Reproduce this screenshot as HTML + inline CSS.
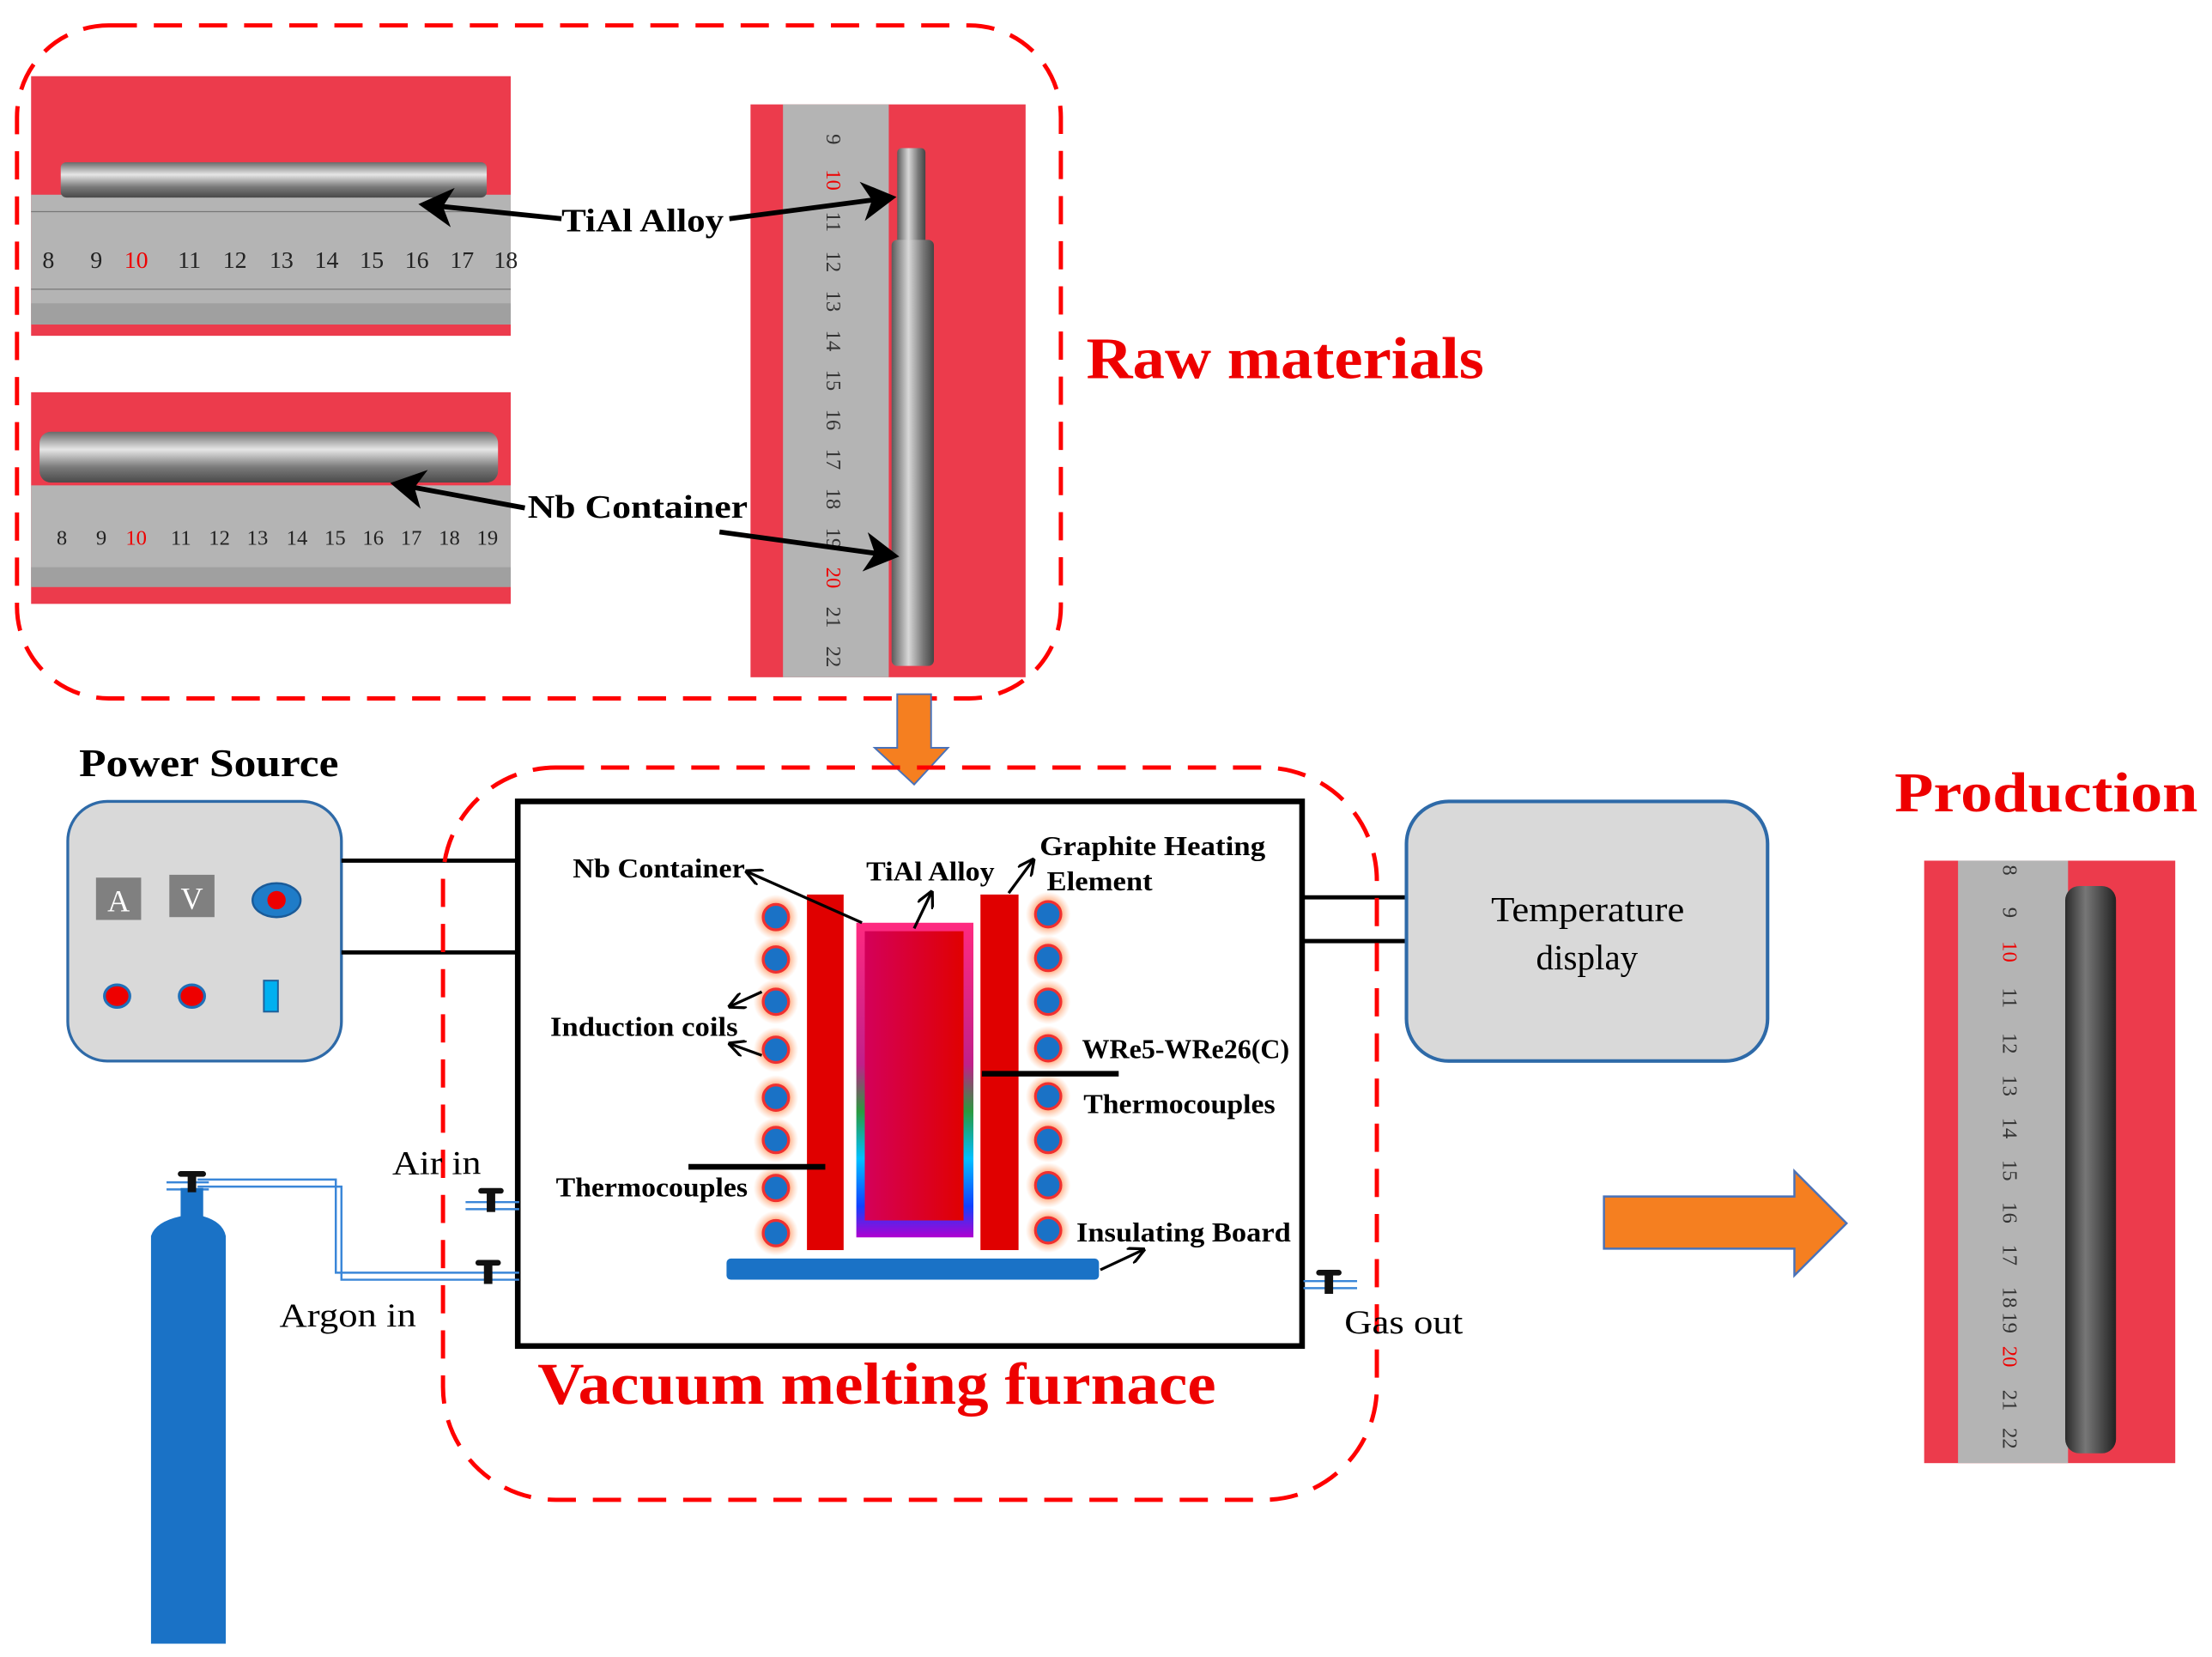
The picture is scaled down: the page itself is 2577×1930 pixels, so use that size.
<!DOCTYPE html>
<html><head><meta charset="utf-8"><style>
html,body{margin:0;padding:0;background:#fff;}
svg{display:block;}
text{font-family:"Liberation Serif",serif;}
</style></head><body>
<svg width="2577" height="1930" viewBox="0 0 1568 1174.4" xmlns="http://www.w3.org/2000/svg">
<defs>
<linearGradient id="rodh" x1="0" y1="0" x2="0" y2="1">
<stop offset="0" stop-color="#6a6a6a"/><stop offset="0.35" stop-color="#e6e6e6"/><stop offset="0.7" stop-color="#7a7a7a"/><stop offset="1" stop-color="#4a4a4a"/></linearGradient>
<linearGradient id="rodv" x1="0" y1="0" x2="1" y2="0">
<stop offset="0" stop-color="#5a5a5a"/><stop offset="0.4" stop-color="#d8d8d8"/><stop offset="0.75" stop-color="#777"/><stop offset="1" stop-color="#444"/></linearGradient>
<linearGradient id="rodd" x1="0" y1="0" x2="1" y2="0">
<stop offset="0" stop-color="#2a2a2a"/><stop offset="0.4" stop-color="#777"/><stop offset="1" stop-color="#222"/></linearGradient>
<linearGradient id="cruc" x1="0" y1="0" x2="1" y2="0">
<stop offset="0" stop-color="#d4005a"/><stop offset="1" stop-color="#e00000"/></linearGradient>
<linearGradient id="crucw" x1="0" y1="0" x2="0" y2="1">
<stop offset="0" stop-color="#ff2a80"/><stop offset="0.45" stop-color="#c0208a"/><stop offset="0.6" stop-color="#2a9a40"/><stop offset="0.75" stop-color="#00c0ff"/><stop offset="0.9" stop-color="#1040ff"/><stop offset="1" stop-color="#b000d0"/></linearGradient>
<radialGradient id="glow"><stop offset="0.5" stop-color="#ff8040" stop-opacity="0.8"/><stop offset="1" stop-color="#ffb080" stop-opacity="0"/></radialGradient>
<marker id="ah" markerWidth="8" markerHeight="8" refX="6" refY="4" orient="auto" markerUnits="strokeWidth"><path d="M0,0 L7,4 L0,8 L2,4z" fill="#000"/></marker>
<marker id="ah2" markerWidth="6" markerHeight="6" refX="5" refY="3" orient="auto" markerUnits="strokeWidth"><path d="M0,0 L6,3 L0,6" fill="none" stroke="#000" stroke-width="1"/></marker>
</defs>

<!-- Raw materials box -->
<rect x="12" y="18" width="740" height="477" rx="65" fill="none" stroke="#f00" stroke-width="3" stroke-dasharray="20,12"/>
<!-- photo 1 -->
<rect x="22" y="54" width="340" height="184" fill="#ec3b4c"/>
<rect x="22" y="138" width="340" height="92" fill="#b4b4b4"/>
<rect x="22" y="215" width="340" height="15" fill="#a0a0a0"/>
<g stroke="#777" stroke-width="0.8">
<path d="M22,150 H362 M22,205 H362"/></g>
<rect x="43" y="115" width="302" height="25" rx="4" fill="url(#rodh)"/>
<g font-family="Liberation Sans,sans-serif" font-size="17" fill="#222">
<text x="30" y="190">8</text><text x="64" y="190">9</text><text x="88" y="190" fill="#e00">10</text><text x="126" y="190">11</text><text x="158" y="190">12</text><text x="191" y="190">13</text><text x="223" y="190">14</text><text x="255" y="190">15</text><text x="287" y="190">16</text><text x="319" y="190">17</text><text x="350" y="190">18</text></g>
<!-- photo 2 -->
<rect x="22" y="278" width="340" height="150" fill="#ec3b4c"/>
<rect x="22" y="344" width="340" height="72" fill="#b4b4b4"/>
<rect x="22" y="402" width="340" height="14" fill="#a0a0a0"/>
<rect x="28" y="306" width="325" height="36" rx="8" fill="url(#rodh)"/>
<g font-family="Liberation Sans,sans-serif" font-size="15" fill="#222">
<text x="40" y="386">8</text><text x="68" y="386">9</text><text x="89" y="386" fill="#e00">10</text><text x="121" y="386">11</text><text x="148" y="386">12</text><text x="175" y="386">13</text><text x="203" y="386">14</text><text x="230" y="386">15</text><text x="257" y="386">16</text><text x="284" y="386">17</text><text x="311" y="386">18</text><text x="338" y="386">19</text></g>
<!-- photo 3 -->
<rect x="532" y="74" width="195" height="406" fill="#ec3b4c"/>
<rect x="555" y="74" width="75" height="406" fill="#b4b4b4"/>
<g font-family="Liberation Sans,sans-serif" font-size="15" fill="#333">
<text transform="translate(586,95) rotate(90)">9</text>
<text transform="translate(586,120) rotate(90)" fill="#e00">10</text>
<text transform="translate(586,150) rotate(90)">11</text>
<text transform="translate(586,178) rotate(90)">12</text>
<text transform="translate(586,206) rotate(90)">13</text>
<text transform="translate(586,234) rotate(90)">14</text>
<text transform="translate(586,262) rotate(90)">15</text>
<text transform="translate(586,290) rotate(90)">16</text>
<text transform="translate(586,318) rotate(90)">17</text>
<text transform="translate(586,346) rotate(90)">18</text>
<text transform="translate(586,374) rotate(90)">19</text>
<text transform="translate(586,402) rotate(90)" fill="#e00">20</text>
<text transform="translate(586,430) rotate(90)">21</text>
<text transform="translate(586,458) rotate(90)">22</text></g>
<rect x="636" y="105" width="20" height="70" rx="3" fill="url(#rodv)"/>
<rect x="632" y="170" width="30" height="302" rx="4" fill="url(#rodv)"/>
<!-- raw arrows & labels -->
<g stroke="#000" stroke-width="3.5" marker-end="url(#ah)" fill="none">
<line x1="398" y1="155" x2="300" y2="145"/>
<line x1="517" y1="155" x2="632" y2="140"/>
<line x1="372" y1="360" x2="280" y2="343"/>
<line x1="510" y1="377" x2="634" y2="394"/>
</g>
<g font-weight="bold" font-size="23" fill="#000">
<text x="398" y="164" textLength="115" lengthAdjust="spacingAndGlyphs">TiAl Alloy</text>
<text x="374" y="367" textLength="156" lengthAdjust="spacingAndGlyphs">Nb Container</text></g>
<text x="770" y="268" font-size="42" font-weight="bold" fill="#e00" textLength="282" lengthAdjust="spacingAndGlyphs">Raw materials</text>

<!-- orange down arrow -->
<path d="M636,492 H660 V530 H672 L648,556 L620,530 H636 Z" fill="#f57f20" stroke="#4a72b8" stroke-width="1.2"/>

<!-- Power source -->
<text x="56" y="550" font-size="28" font-weight="bold" textLength="184" lengthAdjust="spacingAndGlyphs">Power Source</text>
<rect x="48" y="568" width="194" height="184" rx="28" fill="#d9d9d9" stroke="#2e6aa8" stroke-width="2"/>
<rect x="68" y="622" width="32" height="30" fill="#808080"/>
<text x="84" y="646" font-size="22" fill="#fff" text-anchor="middle">A</text>
<rect x="120" y="620" width="32" height="30" fill="#808080"/>
<text x="136" y="644" font-size="22" fill="#fff" text-anchor="middle">V</text>
<ellipse cx="196" cy="638" rx="17" ry="12" fill="#1f7cc8" stroke="#1a5b99" stroke-width="1.5"/>
<circle cx="196" cy="638" r="6.5" fill="#e00"/>
<ellipse cx="83" cy="706" rx="9" ry="8" fill="#e00" stroke="#1f6fb8" stroke-width="2"/>
<ellipse cx="136" cy="706" rx="9" ry="8" fill="#e00" stroke="#1f6fb8" stroke-width="2"/>
<rect x="187" y="695" width="10" height="22" fill="#00b0f0" stroke="#1f5f99" stroke-width="1.2"/>
<g stroke="#000" stroke-width="3"><line x1="242" y1="610" x2="366" y2="610"/><line x1="242" y1="675" x2="366" y2="675"/>
<line x1="924" y1="636" x2="997" y2="636"/><line x1="924" y1="667" x2="997" y2="667"/></g>

<!-- Furnace dashed -->
<rect x="314" y="544" width="662" height="519" rx="80" fill="none" stroke="#f00" stroke-width="3" stroke-dasharray="20,12"/>
<rect x="367" y="568" width="556" height="386" fill="none" stroke="#000" stroke-width="4"/>

<!-- crucible -->
<rect x="607" y="654" width="83" height="223" fill="url(#crucw)"/>
<rect x="613" y="660" width="70" height="205" fill="url(#cruc)"/>
<rect x="572" y="634" width="26" height="252" fill="#e00000"/>
<rect x="695" y="634" width="27" height="252" fill="#e00000"/>
<rect x="515" y="892" width="264" height="15" rx="3" fill="#1a72c6"/>
<!-- coils -->
<g>
<g fill="url(#glow)">
<circle cx="550" cy="650" r="16"/><circle cx="550" cy="680" r="16"/><circle cx="550" cy="710" r="16"/><circle cx="550" cy="744" r="16"/><circle cx="550" cy="778" r="16"/><circle cx="550" cy="808" r="16"/><circle cx="550" cy="842" r="16"/><circle cx="550" cy="874" r="16"/>
<circle cx="743" cy="648" r="16"/><circle cx="743" cy="679" r="16"/><circle cx="743" cy="710" r="16"/><circle cx="743" cy="743" r="16"/><circle cx="743" cy="777" r="16"/><circle cx="743" cy="808" r="16"/><circle cx="743" cy="840" r="16"/><circle cx="743" cy="872" r="16"/></g>
<g fill="#1a72c6" stroke="#f03030" stroke-width="2">
<circle cx="550" cy="650" r="9"/><circle cx="550" cy="680" r="9"/><circle cx="550" cy="710" r="9"/><circle cx="550" cy="744" r="9"/><circle cx="550" cy="778" r="9"/><circle cx="550" cy="808" r="9"/><circle cx="550" cy="842" r="9"/><circle cx="550" cy="874" r="9"/>
<circle cx="743" cy="648" r="9"/><circle cx="743" cy="679" r="9"/><circle cx="743" cy="710" r="9"/><circle cx="743" cy="743" r="9"/><circle cx="743" cy="777" r="9"/><circle cx="743" cy="808" r="9"/><circle cx="743" cy="840" r="9"/><circle cx="743" cy="872" r="9"/></g>
</g>
<g stroke="#000" stroke-width="4"><line x1="488" y1="827" x2="585" y2="827"/><line x1="696" y1="761" x2="793" y2="761"/></g>
<g stroke="#000" stroke-width="2" fill="none" marker-end="url(#ah2)">
<line x1="611" y1="654" x2="530" y2="618"/>
<line x1="648" y1="658" x2="660" y2="633"/>
<line x1="715" y1="633" x2="732" y2="610"/>
<line x1="540" y1="703" x2="518" y2="713"/>
<line x1="540" y1="748" x2="518" y2="740"/>
<line x1="780" y1="900" x2="810" y2="886"/>
</g>
<g font-weight="bold" font-size="19" fill="#000" lengthAdjust="spacingAndGlyphs">
<text x="406" y="622" textLength="122" lengthAdjust="spacingAndGlyphs">Nb Container</text>
<text x="614" y="624" textLength="91" lengthAdjust="spacingAndGlyphs">TiAl Alloy</text>
<text x="737" y="606" textLength="160" lengthAdjust="spacingAndGlyphs">Graphite Heating</text>
<text x="742" y="631" textLength="75" lengthAdjust="spacingAndGlyphs">Element</text>
<text x="390" y="734" textLength="133" lengthAdjust="spacingAndGlyphs">Induction coils</text>
<text x="767" y="750" textLength="147" lengthAdjust="spacingAndGlyphs">WRe5-WRe26(C)</text>
<text x="768" y="789" textLength="136" lengthAdjust="spacingAndGlyphs">Thermocouples</text>
<text x="394" y="848" textLength="136" lengthAdjust="spacingAndGlyphs">Thermocouples</text>
<text x="763" y="880" textLength="152" lengthAdjust="spacingAndGlyphs">Insulating Board</text>
</g>
<text x="381" y="995" font-size="42" font-weight="bold" fill="#e00" textLength="481" lengthAdjust="spacingAndGlyphs">Vacuum melting furnace</text>

<!-- gas cylinder and pipes -->
<g fill="none" stroke="#3a86d8" stroke-width="1.5">
<path d="M140,836 H238 V902 H368"/><path d="M140,841 H242 V907 H368"/>
<path d="M330,852 H368 M330,857 H368"/>
<path d="M118,838 H148 M118,843 H148"/>
<path d="M924,908 H962 M924,913 H962"/>
</g>
<rect x="128" y="842" width="16" height="22" fill="#1a72c6"/>
<path d="M107,876 Q110,866 128,862 H144 Q158,866 160,876 V1165 H107 Z" fill="#1a72c6"/>
<g fill="#111">
<rect x="126" y="830" width="20" height="4" rx="2"/><rect x="133" y="833" width="6" height="12"/>
<rect x="339" y="842" width="18" height="4" rx="2"/><rect x="345" y="845" width="6" height="14"/>
<rect x="337" y="893" width="18" height="4" rx="2"/><rect x="343" y="896" width="6" height="14"/>
<rect x="933" y="900" width="18" height="4" rx="2"/><rect x="939" y="903" width="6" height="14"/>
</g>
<g font-size="24" fill="#000">
<text x="278" y="832" textLength="63" lengthAdjust="spacingAndGlyphs">Air in</text>
<text x="198" y="940" textLength="97" lengthAdjust="spacingAndGlyphs">Argon in</text>
<text x="953" y="945" textLength="84" lengthAdjust="spacingAndGlyphs">Gas out</text></g>

<!-- Temperature display -->
<rect x="997" y="568" width="256" height="184" rx="30" fill="#d9d9d9" stroke="#2e6aa8" stroke-width="2.5"/>
<text x="1057" y="653" font-size="25" textLength="137" lengthAdjust="spacingAndGlyphs">Temperature</text>
<text x="1125" y="687" font-size="25" text-anchor="middle">display</text>

<!-- right arrow -->
<path d="M1137,848 H1272 V830 L1309,867 L1272,904 V885 H1137 Z" fill="#f57f20" stroke="#4a72b8" stroke-width="1.5"/>

<!-- Production -->
<text x="1343" y="575" font-size="40" font-weight="bold" fill="#e00" textLength="215" lengthAdjust="spacingAndGlyphs">Production</text>
<rect x="1364" y="610" width="178" height="427" fill="#ec3b4c"/>
<rect x="1388" y="610" width="78" height="427" fill="#b4b4b4"/>
<g font-family="Liberation Sans,sans-serif" font-size="15" fill="#333">
<text transform="translate(1420,613) rotate(90)">8</text>
<text transform="translate(1420,643) rotate(90)">9</text>
<text transform="translate(1420,667) rotate(90)" fill="#e00">10</text>
<text transform="translate(1420,700) rotate(90)">11</text>
<text transform="translate(1420,732) rotate(90)">12</text>
<text transform="translate(1420,762) rotate(90)">13</text>
<text transform="translate(1420,792) rotate(90)">14</text>
<text transform="translate(1420,822) rotate(90)">15</text>
<text transform="translate(1420,852) rotate(90)">16</text>
<text transform="translate(1420,882) rotate(90)">17</text>
<text transform="translate(1420,912) rotate(90)">18</text>
<text transform="translate(1420,930) rotate(90)">19</text>
<text transform="translate(1420,954) rotate(90)" fill="#e00">20</text>
<text transform="translate(1420,985) rotate(90)">21</text>
<text transform="translate(1420,1012) rotate(90)">22</text></g>
<rect x="1464" y="628" width="36" height="402" rx="10" fill="url(#rodd)"/>
</svg>
</body></html>
